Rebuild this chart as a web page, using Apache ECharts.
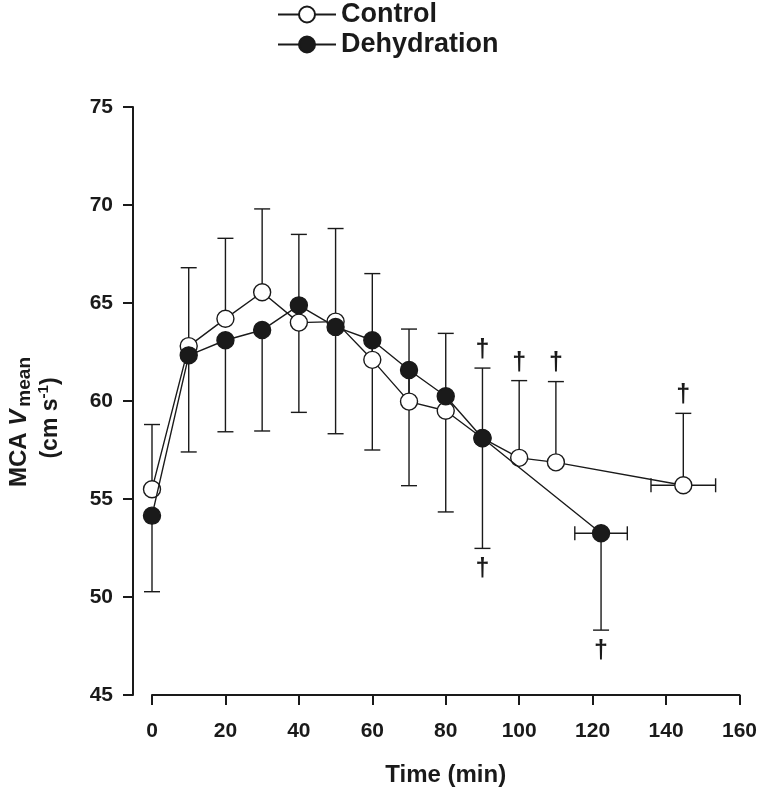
<!DOCTYPE html>
<html>
<head>
<meta charset="utf-8">
<script src="https://cdn.jsdelivr.net/npm/echarts@6/dist/echarts.min.js"></script>
<style>html,body{margin:0;padding:0;background:#fff}#c{width:760px;height:792px}</style>
</head>
<body>
<div id="c"></div>
<script>
// ---- data ----
var xTicks = [0, 20, 40, 60, 80, 100, 120, 140, 160];
var yTicks = [45, 50, 55, 60, 65, 70, 75];
var controlTime = [0, 10, 20, 30, 40, 50, 60, 70, 80, 90, 100, 110, 144.7];
var controlMean = [55.5, 62.8, 64.2, 65.55, 64.0, 64.05, 62.1, 59.97, 59.5, 58.1, 57.1, 56.87, 55.7];
var controlUpper = [58.8, 66.8, 68.3, 69.8, 68.5, 68.8, 66.5, 63.67, 63.45, 61.68, 61.04, 60.99, 59.37];
var controlTimeErr = [0, 0, 0, 0, 0, 0, 0, 0, 0, 0, 0, 0, 8.8];
var controlSig = [0, 0, 0, 0, 0, 0, 0, 0, 0, 1, 1, 1, 1];
var dehydTime = [0, 10, 20, 30, 40, 50, 60, 70, 80, 90, 122.3];
var dehydMean = [54.15, 62.33, 63.1, 63.62, 64.88, 63.78, 63.1, 61.58, 60.24, 58.11, 53.25];
var dehydLower = [50.27, 57.4, 58.43, 58.47, 59.42, 58.33, 57.5, 55.68, 54.34, 52.48, 48.31];
var dehydTimeErr = [0, 0, 0, 0, 0, 0, 0, 0, 0, 0, 7.15];
var dehydSig = [0, 0, 0, 0, 0, 0, 0, 0, 0, 1, 1];

var FONT = '"Liberation Sans", Arial, sans-serif';
var INK = '#1a1a1a';

function zip(a, b) { return a.map(function (v, i) { return [v, b[i]]; }); }
function errData(t, m, e, te, s) {
  return t.map(function (v, i) { return [v, m[i], e[i], te[i], s[i]]; });
}

function makeErrRender(dir) {
  return function (params, api) {
    var t = api.value(0), m = api.value(1), e = api.value(2), te = api.value(3), sig = api.value(4);
    var p = api.coord([t, m]);
    var q = api.coord([t, e]);
    var cap = 8;
    var st = { stroke: INK, lineWidth: 1.4, fill: null };
    var ch = [
      { type: 'line', shape: { x1: p[0], y1: p[1], x2: q[0], y2: q[1] }, style: st },
      { type: 'line', shape: { x1: q[0] - cap, y1: q[1], x2: q[0] + cap, y2: q[1] }, style: st }
    ];
    if (te > 0) {
      var l = api.coord([t - te, m]), r = api.coord([t + te, m]);
      ch.push({ type: 'line', shape: { x1: l[0], y1: p[1], x2: r[0], y2: p[1] }, style: st });
      ch.push({ type: 'line', shape: { x1: l[0], y1: p[1] - 7, x2: l[0], y2: p[1] + 7 }, style: st });
      ch.push({ type: 'line', shape: { x1: r[0], y1: p[1] - 7, x2: r[0], y2: p[1] + 7 }, style: st });
    }
    if (sig) {
      ch.push({ type: 'text', x: q[0], y: q[1] + (dir > 0 ? -18 : 21),
        style: { text: '\u2020', fill: INK, font: 'bold 25px ' + FONT, align: 'center', verticalAlign: 'middle' } });
    }
    return { type: 'group', children: ch };
  };
}

var chart = echarts.init(document.getElementById('c'), null, { renderer: 'canvas' });
chart.setOption({
  animation: false,
  backgroundColor: '#fff',
  grid: { left: 152, right: 19, top: 107, bottom: 97 },
  legend: {
    orient: 'vertical', left: 272, top: -4, itemGap: 3, itemWidth: 58, itemHeight: 20,
    data: ['Control', 'Dehydration'],
    textStyle: { fontFamily: FONT, fontWeight: 'bold', fontSize: 27, color: INK }
  },
  xAxis: {
    type: 'value', min: 0, max: 160, interval: 20,
    name: 'Time (min)', nameLocation: 'middle', nameGap: 68,
    nameTextStyle: { fontFamily: FONT, fontWeight: 'bold', fontSize: 24, color: INK },
    axisLine: { onZero: false, lineStyle: { color: INK, width: 2 } },
    axisTick: { length: 10, lineStyle: { color: INK, width: 2 } },
    axisLabel: { margin: 26, fontFamily: FONT, fontWeight: 'bold', fontSize: 21, color: INK,
      formatter: function (v) { return xTicks.indexOf(v) >= 0 ? String(v) : ''; } },
    splitLine: { show: false }
  },
  yAxis: {
    type: 'value', min: 45, max: 75, interval: 5, offset: 19,
    axisLine: { show: true, onZero: false, lineStyle: { color: INK, width: 2 } },
    axisTick: { show: true, length: 10, lineStyle: { color: INK, width: 2 } },
    axisLabel: { margin: 20, fontFamily: FONT, fontWeight: 'bold', fontSize: 21, color: INK,
      formatter: function (v) { return yTicks.indexOf(v) >= 0 ? String(v) : ''; } },
    splitLine: { show: false }
  },
  graphic: [
    { type: 'text', x: 19, y: 422, rotation: Math.PI / 2,
      style: { text: '{b|MCA }{i|V}{s|mean}', align: 'center', verticalAlign: 'middle',
        rich: {
          b: { font: 'bold 24px ' + FONT, fill: INK, lineHeight: 30, verticalAlign: 'middle' },
          i: { font: 'italic bold 24px ' + FONT, fill: INK, lineHeight: 30, verticalAlign: 'middle', padding: [0, 3, 0, 0] },
          s: { font: 'bold 19px ' + FONT, fill: INK, lineHeight: 30, verticalAlign: 'bottom' }
        } } },
    { type: 'text', x: 51, y: 418, rotation: Math.PI / 2,
      style: { text: '{b|(cm s}{p|-1}{b|)}', align: 'center', verticalAlign: 'middle',
        rich: {
          b: { font: 'bold 23px ' + FONT, fill: INK, lineHeight: 30, verticalAlign: 'middle' },
          p: { font: 'bold 15px ' + FONT, fill: INK, lineHeight: 30, verticalAlign: 'top' }
        } } }
  ],
  series: [
    { name: 'ctlErr', type: 'custom', renderItem: makeErrRender(1), z: 1, silent: true,
      data: errData(controlTime, controlMean, controlUpper, controlTimeErr, controlSig) },
    { name: 'dehErr', type: 'custom', renderItem: makeErrRender(-1), z: 1, silent: true,
      data: errData(dehydTime, dehydMean, dehydLower, dehydTimeErr, dehydSig) },
    { name: 'Control', type: 'line', z: 3, data: zip(controlTime, controlMean),
      symbol: 'circle', symbolSize: 17,
      lineStyle: { color: INK, width: 1.4 },
      itemStyle: { color: '#fff', borderColor: INK, borderWidth: 1.4 } },
    { name: 'Dehydration', type: 'line', z: 4, data: zip(dehydTime, dehydMean),
      symbol: 'circle', symbolSize: 17,
      lineStyle: { color: INK, width: 1.4 },
      itemStyle: { color: INK, borderColor: INK, borderWidth: 1.4 } }
  ]
});
</script>
</body>
</html>
